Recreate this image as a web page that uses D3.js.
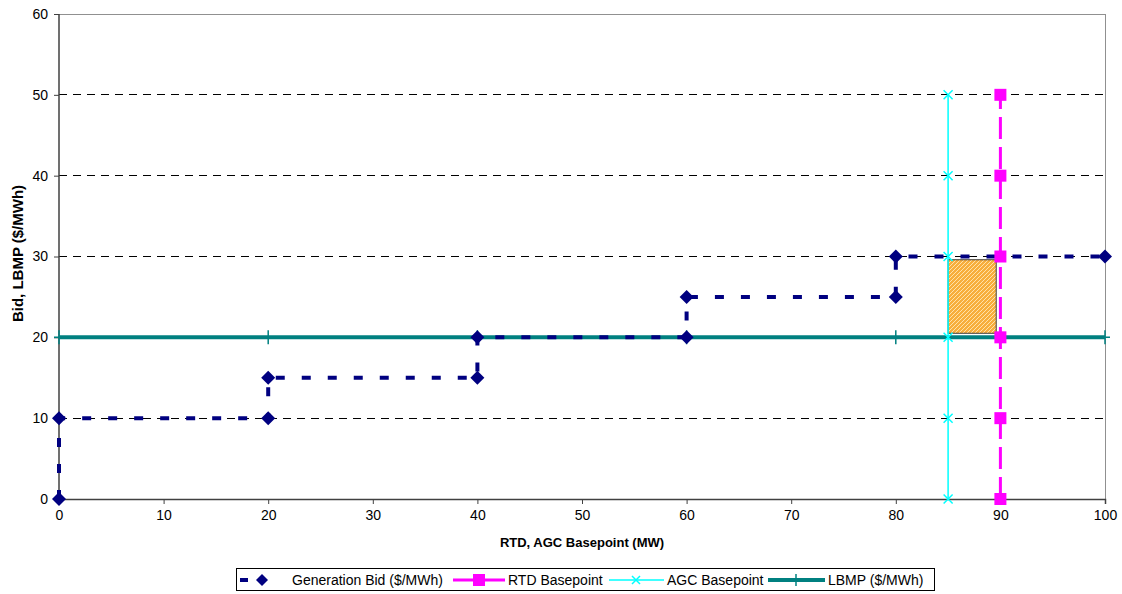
<!DOCTYPE html>
<html>
<head>
<meta charset="utf-8">
<script src="https://cdn.jsdelivr.net/npm/d3@7"></script>
<style>
  body { margin: 0; background: #fff; }
  svg { display: block; font-family: "Liberation Sans", Arial, sans-serif; }
</style>
</head>
<body>
<svg id="chart" width="1122" height="594"></svg>
<script>
// Generation offer curve (step function, MW vs $/MWh)
const bidMW    = [0, 0, 20, 20, 40, 40, 60, 60, 80, 80, 100];
const bidPrice = [0, 10, 10, 15, 15, 20, 20, 25, 25, 30, 30];

// RTD basepoint (vertical marker line)
const rtdMW    = [90, 90, 90, 90, 90, 90];
const rtdPrice = [0, 10, 20, 30, 40, 50];

// AGC basepoint (vertical marker line)
const agcMW    = [85, 85, 85, 85, 85, 85];
const agcPrice = [0, 10, 20, 30, 40, 50];

// Locational marginal price
const lbmpMW    = [0, 20, 40, 60, 80, 100];
const lbmpPrice = [20, 20, 20, 20, 20, 20];

// Shaded area between AGC and RTD basepoints, LBMP and bid
const shadeX = [85, 89.6];
const shadeY = [20.5, 29.6];

const xTicks = [0, 10, 20, 30, 40, 50, 60, 70, 80, 90, 100];
const yTicks = [0, 10, 20, 30, 40, 50, 60];

const legendNames = ["Generation Bid ($/MWh)", "RTD Basepoint", "AGC Basepoint", "LBMP ($/MWh)"];

const svg = d3.select("#chart");
const L = 59, R = 1105, T = 14, B = 499;
const x = d3.scaleLinear().domain([0, 100]).range([L, R]);
const y = d3.scaleLinear().domain([0, 60]).range([B, T]);

const zip = (a, b) => a.map((v, i) => [v, b[i]]);

// hatch pattern for the shaded rectangle
const defs = svg.append("defs");
const pat = defs.append("pattern").attr("id", "hatch")
  .attr("patternUnits", "userSpaceOnUse").attr("width", 4).attr("height", 4);
pat.append("rect").attr("width", 4).attr("height", 4).attr("fill", "#F7AE3C");
pat.append("path").attr("d", "M-1,1 L1,-1 M0,4 L4,0 M3,5 L5,3")
  .attr("stroke", "#FFE2A8").attr("stroke-width", 1);

// gridlines
svg.append("g").selectAll("line").data(yTicks.filter(v => v > 0 && v < 60)).join("line")
  .attr("x1", L).attr("x2", R).attr("y1", d => y(d)).attr("y2", d => y(d))
  .attr("stroke", "#000").attr("stroke-width", 1).attr("stroke-dasharray", "8,6")
  .attr("shape-rendering", "crispEdges");

// plot frame top/right
svg.append("line").attr("x1", L).attr("x2", R).attr("y1", y(60)).attr("y2", y(60))
  .attr("stroke", "#909090").attr("shape-rendering", "crispEdges");
svg.append("line").attr("x1", R).attr("x2", R).attr("y1", T).attr("y2", B)
  .attr("stroke", "#909090").attr("shape-rendering", "crispEdges");

// axes
const xAxis = d3.axisBottom(x).tickValues(xTicks).tickSize(5).tickPadding(6).tickFormat(d3.format("d"));
const yAxis = d3.axisLeft(y).tickValues(yTicks).tickSize(5).tickPadding(6).tickFormat(d3.format("d"));
const gx = svg.append("g").attr("transform", `translate(0,${B})`).call(xAxis);
const gy = svg.append("g").attr("transform", `translate(${L},0)`).call(yAxis);
[gx, gy].forEach(g => {
  g.attr("font-size", 14).attr("font-family", "'Liberation Sans', Arial, sans-serif");
  g.select(".domain").attr("stroke", "#404040").attr("stroke-width", 1.5);
  g.selectAll(".tick line").attr("stroke", "#404040");
  g.selectAll(".tick text").attr("fill", "#000");
});
gy.select(".domain").attr("d", `M-0,${T}V${B}`);

// axis titles
svg.append("text").attr("x", (L + R) / 2).attr("y", 547).attr("text-anchor", "middle")
  .attr("font-size", 13).attr("font-weight", "bold").text("RTD, AGC Basepoint (MW)");
svg.append("text").attr("transform", `translate(23,${(T + B) / 2 - 3}) rotate(-90)`)
  .attr("text-anchor", "middle").attr("font-size", 15).attr("font-weight", "bold")
  .text("Bid, LBMP ($/MWh)");

const line = d3.line().x(d => x(d[0])).y(d => y(d[1]));

// LBMP
const lbmp = zip(lbmpMW, lbmpPrice);
svg.append("path").attr("d", line(lbmp)).attr("fill", "none")
  .attr("stroke", "#008080").attr("stroke-width", 4);
svg.append("g").selectAll("path").data(lbmp).join("path")
  .attr("d", d => `M${x(d[0])},${y(d[1]) - 7}V${y(d[1]) + 7}M${x(d[0]) - 5},${y(d[1])}H${x(d[0]) + 5}`)
  .attr("stroke", "#008080").attr("stroke-width", 1.5);

// shaded rectangle
svg.append("rect")
  .attr("x", x(shadeX[0])).attr("y", y(shadeY[1]))
  .attr("width", x(shadeX[1]) - x(shadeX[0])).attr("height", y(shadeY[0]) - y(shadeY[1]))
  .attr("fill", "url(#hatch)").attr("stroke", "#404040").attr("stroke-width", 1);

// Generation bid
const bid = zip(bidMW, bidPrice);
svg.append("path").attr("d", line(bid)).attr("fill", "none")
  .attr("stroke", "#000080").attr("stroke-width", 4).attr("stroke-dasharray", "9,17");
const diamond = (cx, cy, r) => `M${cx},${cy - r}L${cx + r},${cy}L${cx},${cy + r}L${cx - r},${cy}Z`;
svg.append("g").selectAll("path").data(bid).join("path")
  .attr("d", d => diamond(x(d[0]), y(d[1]), 7)).attr("fill", "#000080");

// AGC basepoint
const agc = zip(agcMW, agcPrice);
svg.append("path").attr("d", line(agc)).attr("fill", "none")
  .attr("stroke", "#00FFFF").attr("stroke-width", 1.5);
svg.append("g").selectAll("path").data(agc).join("path")
  .attr("d", d => { const cx = x(d[0]), cy = y(d[1]), r = 4.5;
    return `M${cx - r},${cy - r}L${cx + r},${cy + r}M${cx - r},${cy + r}L${cx + r},${cy - r}`; })
  .attr("stroke", "#00FFFF").attr("stroke-width", 1.5);

// RTD basepoint
const rtd = zip(rtdMW, rtdPrice);
svg.append("path").attr("d", line(rtd)).attr("fill", "none")
  .attr("stroke", "#FF00FF").attr("stroke-width", 3).attr("stroke-dasharray", "22,8");
svg.append("g").selectAll("rect").data(rtd).join("rect")
  .attr("x", d => x(d[0]) - 6).attr("y", d => y(d[1]) - 6)
  .attr("width", 12).attr("height", 12).attr("fill", "#FF00FF");

// legend
const lg = svg.append("g");
lg.append("rect").attr("x", 236.5).attr("y", 568.5).attr("width", 698).attr("height", 22)
  .attr("fill", "#fff").attr("stroke", "#000").attr("stroke-width", 1);
const ly = 580;
const items = [
  { x0: 240, x1: 290, tx: 292 },
  { x0: 453, x1: 505, tx: 508 },
  { x0: 609, x1: 664, tx: 667 },
  { x0: 768, x1: 825, tx: 828 }
];
// Generation bid sample
lg.append("line").attr("x1", items[0].x0).attr("x2", items[0].x0 + 8).attr("y1", ly).attr("y2", ly)
  .attr("stroke", "#000080").attr("stroke-width", 4);
lg.append("path").attr("d", diamond(262, ly, 6)).attr("fill", "#000080");
// RTD sample
lg.append("line").attr("x1", items[1].x0).attr("x2", items[1].x1).attr("y1", ly).attr("y2", ly)
  .attr("stroke", "#FF00FF").attr("stroke-width", 3);
lg.append("rect").attr("x", 473).attr("y", ly - 6).attr("width", 12).attr("height", 12).attr("fill", "#FF00FF");
// AGC sample
lg.append("line").attr("x1", items[2].x0).attr("x2", items[2].x1).attr("y1", ly).attr("y2", ly)
  .attr("stroke", "#00FFFF").attr("stroke-width", 1.5);
lg.append("path").attr("d", `M632,${ly - 4}L640,${ly + 4}M632,${ly + 4}L640,${ly - 4}`)
  .attr("stroke", "#00FFFF").attr("stroke-width", 1.5);
// LBMP sample
lg.append("line").attr("x1", items[3].x0).attr("x2", items[3].x1).attr("y1", ly).attr("y2", ly)
  .attr("stroke", "#008080").attr("stroke-width", 4);
lg.append("path").attr("d", `M796,${ly - 6}V${ly + 6}`).attr("stroke", "#008080").attr("stroke-width", 1.5);

lg.selectAll("text.lbl").data(legendNames).join("text").attr("class", "lbl")
  .attr("x", (d, i) => items[i].tx).attr("y", ly + 5)
  .attr("font-size", 14).attr("fill", "#000").text(d => d);
</script>
</body>
</html>
